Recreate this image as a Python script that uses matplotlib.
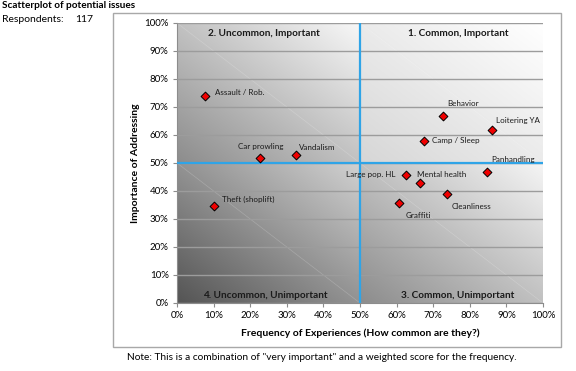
import numpy as np
import matplotlib
matplotlib.use('Agg')
import matplotlib.pyplot as plt
from matplotlib.patches import Rectangle

plt.rcParams['font.family'] = ['Lato', 'DejaVu Sans']

# Data (percent)
issues = ['Assault / Rob.', 'Car prowling', 'Vandalism', 'Theft (shoplift)',
          'Behavior', 'Loitering YA', 'Camp / Sleep', 'Panhandling',
          'Large pop. HL', 'Mental health', 'Cleanliness', 'Graffiti']
frequency = [7.7, 22.7, 32.5, 10.1, 72.7, 86.1, 67.5, 84.7, 62.6, 66.4, 73.8, 60.7]
importance = [73.9, 51.8, 52.9, 34.6, 66.8, 61.8, 57.9, 46.8, 45.7, 42.9, 38.9, 35.7]

# label offsets in pixels (dx, dy) and alignment
label_offsets = [(10, 4, 'left'), (1, 11, 'center'), (3, 7, 'left'), (8, 7, 'left'),
                 (4, 12, 'left'), (4, 9, 'left'), (8, 0, 'left'), (4, 12, 'left'),
                 (-11, 1, 'right'), (-3, 8, 'left'), (5, -12, 'left'), (6, -12, 'left')]

quadrants = ['1. Common, Important', '2. Uncommon, Important',
             '3. Common, Unimportant', '4. Uncommon, Unimportant']

W, H = 576, 371
fig = plt.figure(figsize=(W / 100, H / 100), dpi=100)
fig.patch.set_facecolor('white')
ax = fig.add_axes([177 / W, 1 - 303 / H, (543 - 177) / W, (303 - 23) / H])

# Gradient background, one per quadrant (dark bottom-left -> light top-right)
quad_shades = {
    (0, 50): (0.55, 0.97),   # upper left
    (50, 50): (0.84, 1.00),  # upper right
    (0, 0): (0.33, 0.82),    # lower left
    (50, 0): (0.55, 0.96),   # lower right
}
n = 200
g = np.linspace(0, 1, n)
GX, GY = np.meshgrid(g, g)
T = (GX + GY) / 2
for (x0, y0), (c0, c1) in quad_shades.items():
    v = c0 + (c1 - c0) * T
    img = np.dstack([v, v, v])
    ax.imshow(img, extent=[x0, x0 + 50, y0, y0 + 50], origin='lower',
              aspect='auto', zorder=0, interpolation='bilinear')
    ax.plot([x0, x0 + 50], [y0 + 50, y0], color='white', lw=0.5, alpha=0.2, zorder=1)

ax.set_xlim(0, 100)
ax.set_ylim(0, 100)

# gridlines
ax.set_yticks(np.arange(0, 101, 10))
ax.set_xticks(np.arange(0, 101, 10))
ax.yaxis.grid(True, color='#9c9c9c', lw=1.0)
ax.set_axisbelow(False)
for gl in ax.get_ygridlines():
    gl.set_zorder(2)

ax.set_xticklabels([f'{v}%' for v in range(0, 101, 10)], fontsize=7)
ax.set_yticklabels([f'{v}%' for v in range(0, 101, 10)], fontsize=7)
ax.tick_params(axis='both', length=3, color='#8c8c8c', width=0.8, pad=3)

for side in ['top', 'right']:
    ax.spines[side].set_visible(False)
for side in ['left', 'bottom']:
    ax.spines[side].set_color('#8c8c8c')
    ax.spines[side].set_linewidth(0.8)

# quadrant dividers
ax.axvline(50, color='#2fa4e7', lw=1.6, zorder=3)
ax.axhline(50, color='#2fa4e7', lw=1.6, zorder=3)

# points
ax.scatter(frequency, importance, marker='D', s=20, color='#f00000',
           edgecolor='black', linewidth=0.7, zorder=5)
for name, fx, iy, (dx, dy, ha) in zip(issues, frequency, importance, label_offsets):
    ax.annotate(name, (fx, iy), xytext=(dx, dy), textcoords='offset pixels',
                ha=ha, va='center', fontsize=5.8, color='#1a1a1a', zorder=6)

# quadrant labels
qpos = [(76.8, 96.4), (23.8, 96.4), (76.8, 2.6), (24.0, 2.6)]
for q, (qx, qy) in zip(quadrants, qpos):
    ax.text(qx, qy, q, ha='center', va='center', fontsize=7.2,
            fontweight='bold', color='#1a1a1a', zorder=6)

# frame around chart area
fig.add_artist(Rectangle((113 / W, 1 - 347 / H), (561 - 113) / W, (347 - 13) / H,
                         transform=fig.transFigure, fill=False,
                         edgecolor='#a8a8a8', lw=1.0))

# texts
fig.text(2 / W, 1 - 6 / H, 'Scatterplot of potential issues', fontsize=7.2,
         fontweight='bold', va='center', ha='left')
fig.text(2 / W, 1 - 20 / H, 'Respondents:', fontsize=7.5, va='center', ha='left')
fig.text(75 / W, 1 - 20 / H, '117', fontsize=7.5, va='center', ha='left')
fig.text(136 / W, 1 - 163 / H, 'Importance of Addressing', rotation=90,
         fontsize=7.5, fontweight='bold', va='center', ha='center')
fig.text(360 / W, 1 - 333 / H, 'Frequency of Experiences (How common are they?)',
         fontsize=7.5, fontweight='bold', va='center', ha='center')
fig.text(127 / W, 1 - 357 / H,
         'Note: This is a combination of "very important" and a weighted score for the frequency.',
         fontsize=7.3, va='center', ha='left')

fig.savefig('out.png', dpi=100)
